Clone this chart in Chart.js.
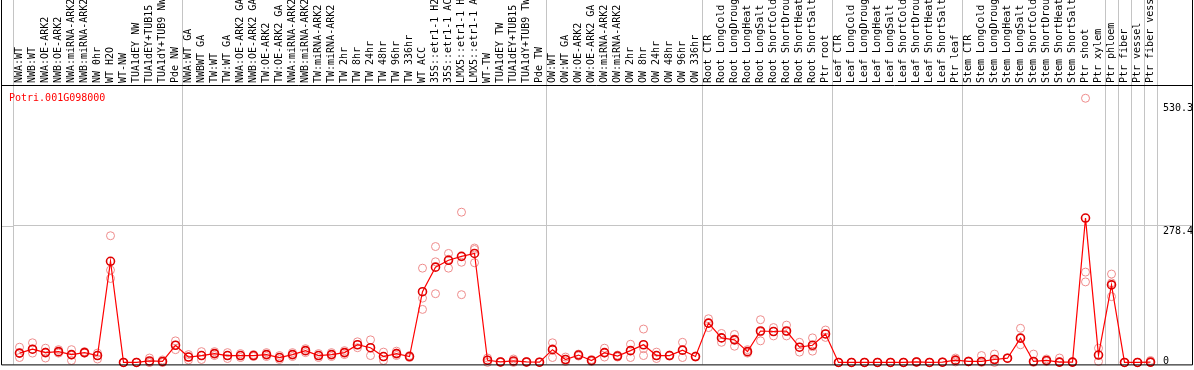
<!DOCTYPE html>
<html>
<head>
<meta charset="utf-8">
<script src="https://cdn.jsdelivr.net/npm/chart.js@4.4.1/dist/chart.umd.min.js"></script>
<style>
  html, body { margin: 0; padding: 0; background: #fff; }
  #wrap { width: 1194px; height: 370px; }
</style>
</head>
<body>
<div id="wrap"><canvas id="myChart"></canvas></div>
<script>
const geneId = 'Potri.001G098000';

const categories = [
  'NWA:WT', 'NWB:WT', 'NWA:OE-ARK2', 'NWB:OE-ARK2', 'NWA:miRNA-ARK2', 'NWB:miRNA-ARK2', 'NW 0hr',
  'WT H2O', 'WT-NW', 'TUA1dEY NW', 'TUA1dEY+TUB15', 'TUA1dY+TUB9 NW', 'Pde NW',
  'NWA:WT GA', 'NWBWT GA', 'TW:WT', 'TW:WT GA', 'NWA:OE-ARK2 GA', 'NWB:OE-ARK2 GA', 'TW:OE-ARK2',
  'TW:OE-ARK2 GA', 'NWA:miRNA-ARK2', 'NWB:miRNA-ARK2', 'TW:miRNA-ARK2', 'TW:miRNA-ARK2',
  'TW 2hr', 'TW 8hr', 'TW 24hr', 'TW 48hr', 'TW 96hr', 'TW 336hr', 'WT ACC',
  '35S::etr1-1 H2', '35S::etr1-1 AC', 'LMX5::etr1-1 H', 'LMX5::etr1-1 A', 'WT-TW', 'TUA1dEY TW',
  'TUA1dEY+TUB15', 'TUA1dY+TUB9 TW', 'Pde TW',
  'OW:WT', 'OW:WT GA', 'OW:OE-ARK2', 'OW:OE-ARK2 GA', 'OW:miRNA-ARK2', 'OW:miRNA-ARK2',
  'OW 2hr', 'OW 8hr', 'OW 24hr', 'OW 48hr', 'OW 96hr', 'OW 336hr',
  'Root CTR', 'Root LongCold', 'Root LongDroug', 'Root LongHeat', 'Root LongSalt',
  'Root ShortCold', 'Root ShortDrou', 'Root ShortHeat', 'Root ShortSalt', 'Ptr root',
  'Leaf CTR', 'Leaf LongCold', 'Leaf LongDroug', 'Leaf LongHeat', 'Leaf LongSalt',
  'Leaf ShortCold', 'Leaf ShortDrou', 'Leaf ShortHeat', 'Leaf ShortSalt', 'Ptr leaf',
  'Stem CTR', 'Stem LongCold', 'Stem LongDroug', 'Stem LongHeat', 'Stem LongSalt',
  'Stem ShortCold', 'Stem ShortDrou', 'Stem ShortHeat', 'Stem ShortSalt', 'Ptr shoot',
  'Ptr xylem', 'Ptr phloem', 'Ptr fiber', 'Ptr vessel', 'Ptr fiber vess'
];

// mean expression per sample
const means = [
  19, 27, 20, 22, 16, 20, 14, 206, 0, 0, 3, 2, 35,
  11, 14, 18, 14, 14, 14, 16, 10, 16, 24, 14, 16, 20, 36, 30, 12, 18, 12, 144,
  194, 208, 216, 222, 4.5, 1, 3, 1, 0.5,
  26, 6, 15, 4, 20, 13, 24, 36, 14, 14, 25, 12,
  80, 50, 46, 22, 64, 63, 64, 31, 35, 58,
  0, 0, 0, 0, 0, 0, 1, 0, 0.5, 4.7,
  2, 2, 6, 8.6, 49.5, 2, 4, 0.7, 0.7, 294,
  15, 158, 0, 0, 0.7
];

// individual replicates
const rep1 = [
  31, 40, 29, 26, 26, 22, 19, 258, 0, 0, 9, 5, 44,
  16, 22, 22, 20, 18, 16, 20, 14, 20, 28, 18, 20, 24, 42, 46, 21, 23, 14, 192,
  236, 222, 306, 233, 9, 2, 7, 2, 1,
  40, 11, 17, 6, 29, 15, 37, 68, 21, 15, 41, 13,
  89, 59, 57, 26, 87, 71, 76, 41, 50, 66,
  0, 0, 0, 0, 0, 0, 2, 0, 1, 9,
  3, 14, 17, 9, 69.5, 17, 7, 9, 1, 538,
  29, 180, 0, 0, 4
];
const rep2 = [
  19, 27, 21, 21, 15, 21, 14, 188, 0, 0, 0, 0, 35,
  11, 14, 18, 14, 14, 14, 16, 10, 16, 24, 14, 16, 20, 36, 30, 12, 19, 12, 131,
  205, 210, 204, 230, 5, 1, 2, 1, 0.5,
  28, 6, 15, 4, 19, 13, 24, 14, 14, 13, 25, 12,
  80, 50, 48, 22, 62, 63, 63, 31, 32, 58,
  0, 0, 0, 0, 0, 0, 1, 0, 0.5, 4,
  2, 2, 7, 8, 49.5, 2, 4, 1, 1, 184,
  15, 162, 0, 0, 0
];
const rep3 = [
  10, 19, 9, 19, 4, 19, 7, 171, 0, 0, 0, 0, 26,
  5, 6, 14, 8, 10, 12, 12, 6, 12, 20, 10, 12, 16, 30, 14, 4, 14, 10, 108,
  140, 192, 138, 203, 0, 0, 0, 0, 0,
  10, 2, 13, 2, 11, 11, 10, 28, 8, 14, 10, 11,
  71, 41, 33, 19, 44, 54, 54, 21, 23, 51,
  0, 0, 0, 0, 0, 0, 0, 0, 0, 1,
  1, 0, 0, 9, 36, 0, 2, 0, 0, 164,
  2, 134, 0, 0, 0
];

const yTicks = [0, 278.4, 530.3];
const yTickLabels = ['0', '278.4', '530.3'];
// a grey separator sits in front of these sample indexes
const groupStarts = [0, 13, 41, 53, 63, 73, 84, 85, 86, 87];

const gridGrey = '#c4c4c4';
const monoFont = { family: '"DejaVu Sans Mono", "Liberation Mono", monospace', size: 10 };

const repStyle = {
  showLine: false,
  borderColor: 'rgb(238,140,140)',
  backgroundColor: 'rgba(0,0,0,0)',
  pointRadius: 4,
  pointBorderWidth: 1,
  clip: false,
  order: 2
};

const data = {
  labels: categories,
  datasets: [
    {
      label: 'mean',
      data: means,
      borderColor: '#ff0000',
      borderWidth: 1.2,
      pointRadius: 4,
      pointBorderWidth: 1.6,
      pointBorderColor: '#e00000',
      pointBackgroundColor: 'rgba(0,0,0,0)',
      tension: 0,
      clip: false,
      order: 1
    },
    Object.assign({ label: 'rep1', data: rep1 }, repStyle),
    Object.assign({ label: 'rep2', data: rep2 }, repStyle),
    Object.assign({ label: 'rep3', data: rep3 }, repStyle)
  ]
};

// frame, gene name and the left stub of the 278.4 line
const frame = {
  id: 'frame',
  beforeDatasetsDraw(chart) {
    const ctx = chart.ctx;
    const y = Math.round(chart.scales.y.getPixelForValue(278.4)) + 0.5;
    ctx.save();
    ctx.strokeStyle = gridGrey;
    ctx.lineWidth = 1;
    ctx.beginPath();
    ctx.moveTo(1, y);
    ctx.lineTo(chart.chartArea.left, y);
    ctx.stroke();
    ctx.restore();
  },
  afterDraw(chart) {
    const ctx = chart.ctx;
    const a = chart.chartArea;
    const r = chart.width - 1.5;
    ctx.save();
    ctx.strokeStyle = '#000';
    ctx.lineWidth = 1;
    ctx.beginPath();
    ctx.moveTo(1.5, 0);
    ctx.lineTo(1.5, a.bottom + 0.5);
    ctx.lineTo(r, a.bottom + 0.5);
    ctx.lineTo(r, 0);
    ctx.moveTo(1, a.top + 0.5);
    ctx.lineTo(r, a.top + 0.5);
    ctx.stroke();
    ctx.fillStyle = '#ff0000';
    ctx.font = '10px "DejaVu Sans Mono", monospace';
    ctx.textBaseline = 'alphabetic';
    ctx.fillText(geneId, 9, 101);
    ctx.restore();
  }
};

const config = {
  type: 'line',
  data,
  options: {
    responsive: true,
    maintainAspectRatio: false,
    animation: false,
    events: [],
    layout: { padding: { left: 13, right: 2, top: 0, bottom: 1 } },
    plugins: { legend: { display: false }, tooltip: { enabled: false } },
    scales: {
      x: {
        position: 'top',
        offset: true,
        border: { display: false },
        grid: {
          offset: true,
          tickLength: 85,
          lineWidth: 1,
          color: (c) => (c.index === undefined || groupStarts.includes(c.index)) ? gridGrey : 'rgba(0,0,0,0)'
        },
        ticks: {
          autoSkip: false,
          minRotation: 90,
          maxRotation: 90,
          padding: -83,
          labelOffset: 12,
          color: '#000',
          font: monoFont
        },
        afterFit(scale) { scale.height = 85; }
      },
      y: {
        position: 'right',
        min: -4,
        max: 565,
        border: { display: false },
        grid: {
          tickLength: 35,
          color: (c) => (c.tick && c.tick.value === 278.4) ? gridGrey : 'rgba(0,0,0,0)'
        },
        ticks: {
          padding: -29,
          labelOffset: 6,
          color: '#000',
          font: Object.assign({ lineHeight: 1.5 }, monoFont),
          // the zero label is lifted inside the frame
          callback: (v) => v === 0 ? ['0', ''] : yTickLabels[yTicks.indexOf(v)]
        },
        afterBuildTicks(scale) { scale.ticks = yTicks.map(v => ({ value: v })); },
        afterFit(scale) { scale.width = 35; }
      }
    }
  },
  plugins: [frame]
};

const myChart = new Chart(document.getElementById('myChart'), config);
</script>
</body>
</html>
